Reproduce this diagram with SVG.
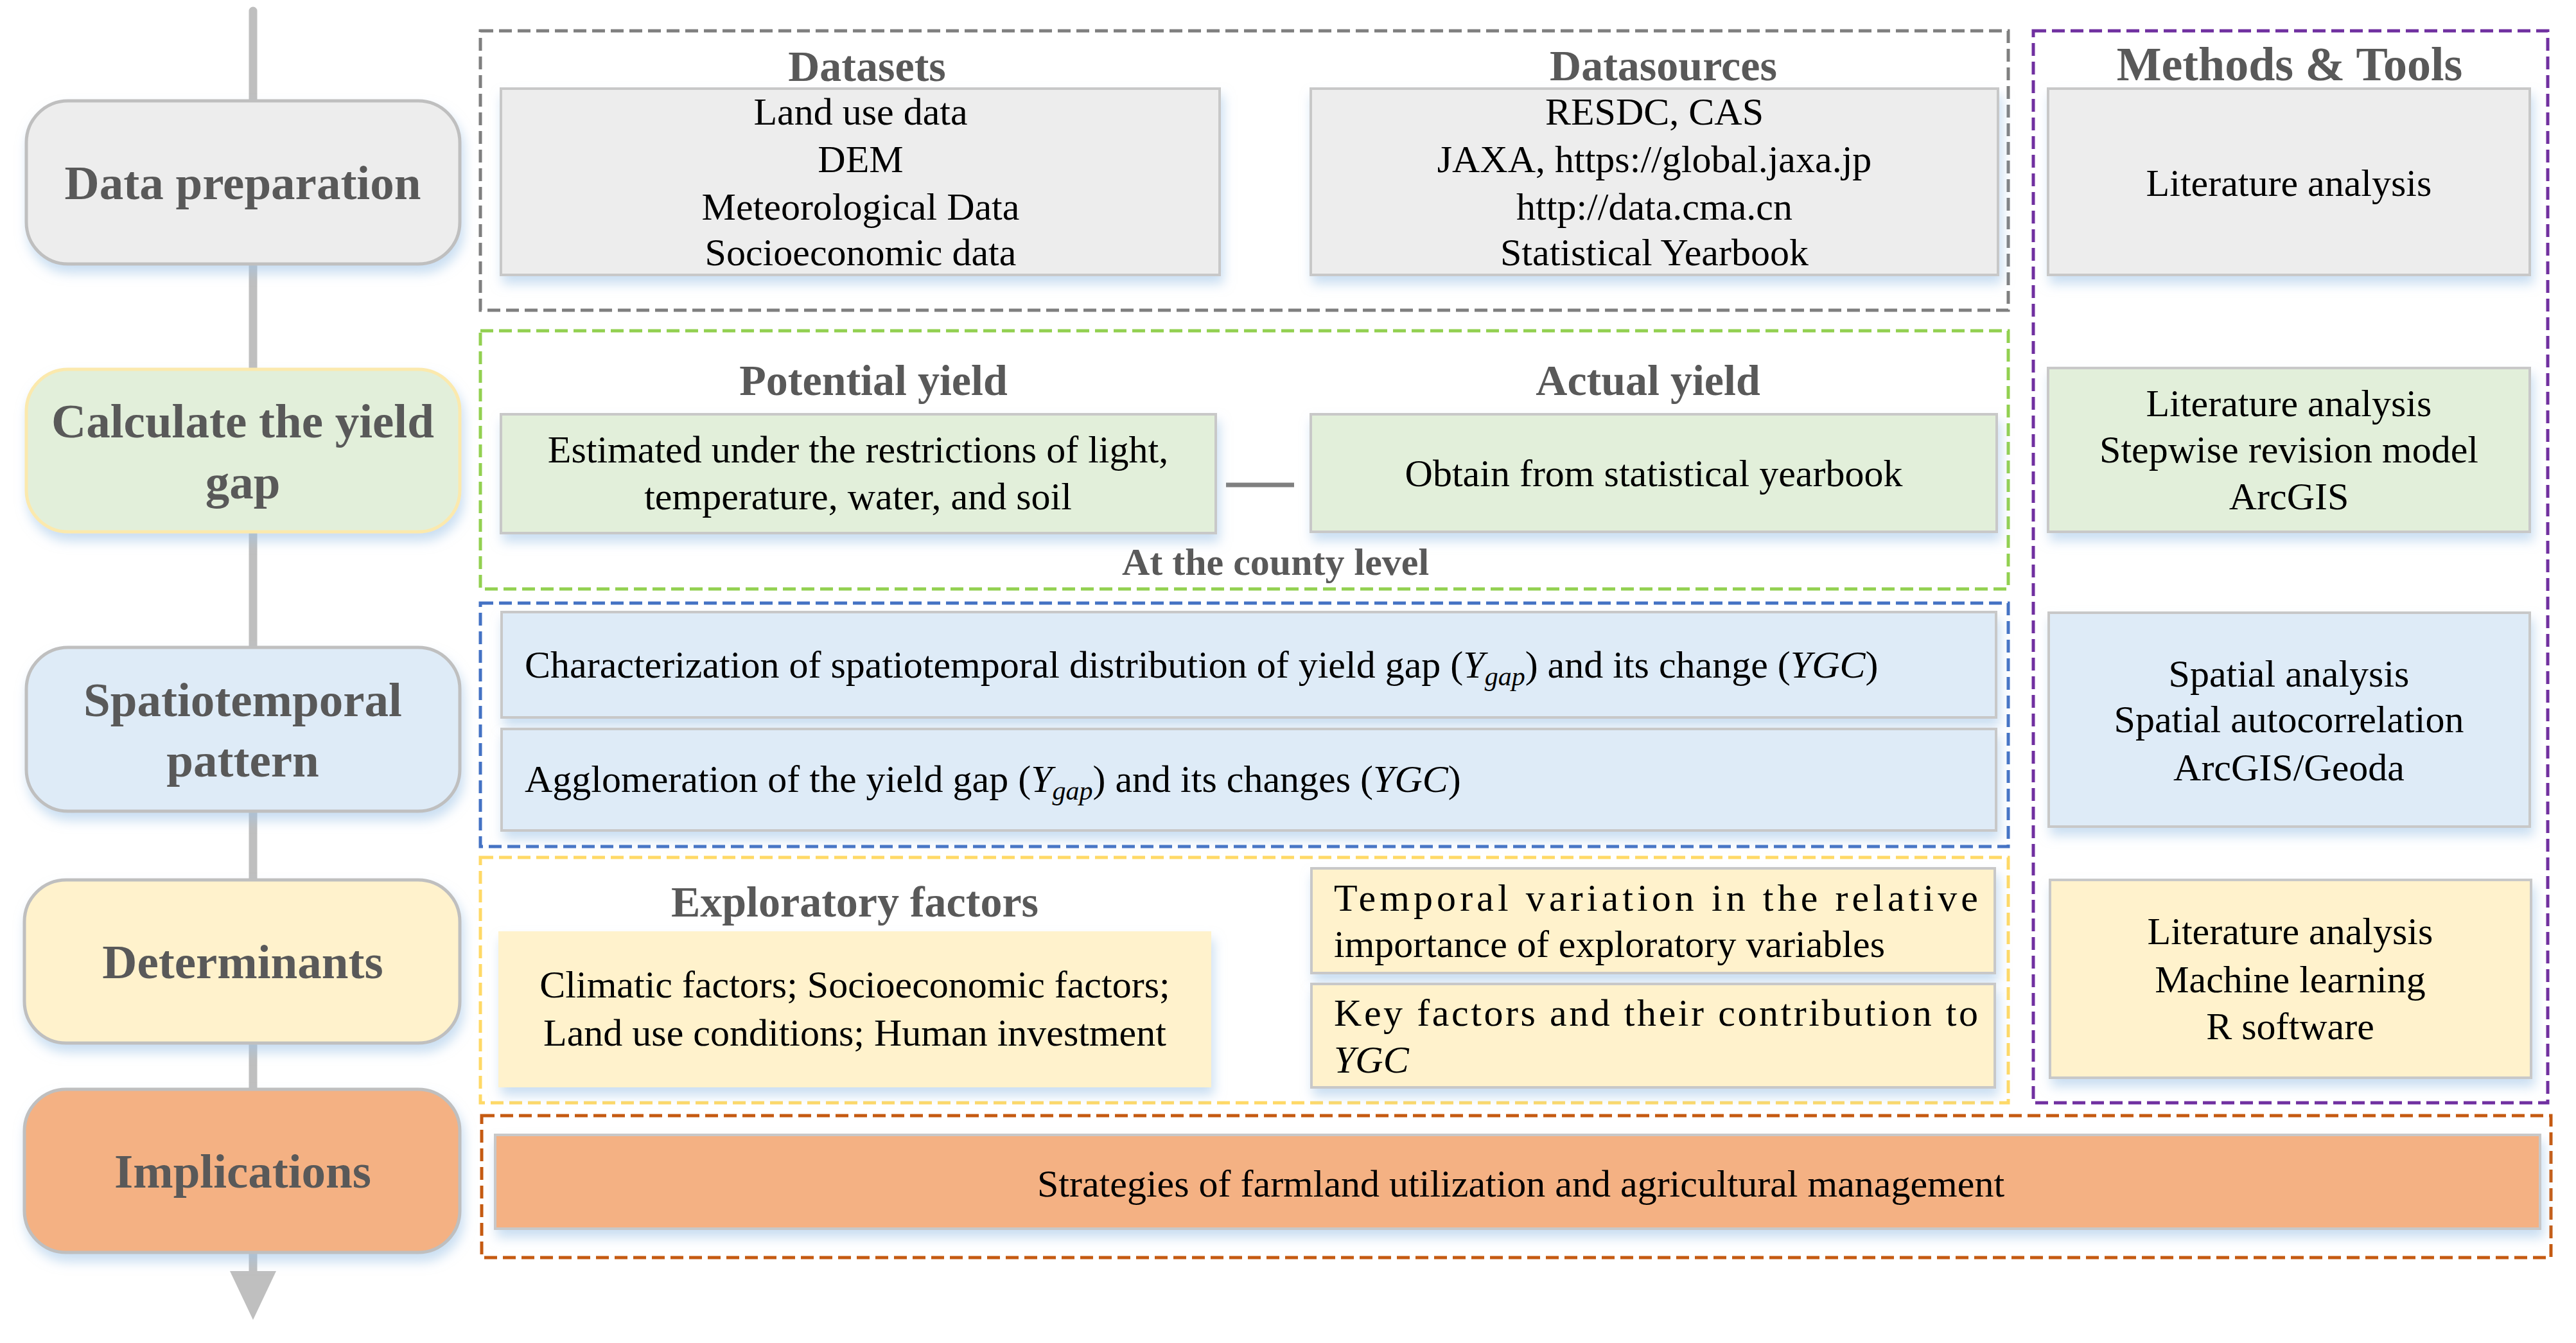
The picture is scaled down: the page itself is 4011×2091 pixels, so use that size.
<svg xmlns="http://www.w3.org/2000/svg" width="4011" height="2091" viewBox="0 0 4011 2091">
<defs>
<filter id="sh" x="-10%" y="-20%" width="120%" height="160%">
<feDropShadow dx="4" dy="12" stdDeviation="9" flood-color="#9dc3e6" flood-opacity="0.55"/>
</filter>
<marker id="arr" markerUnits="userSpaceOnUse" markerWidth="76" markerHeight="72" refX="2" refY="36" orient="auto" viewBox="0 0 76 72"><path d="M0,0 L76,36 L0,72 z" fill="#bfbfbf"/></marker>
</defs>
<style>
.stage rect{stroke:#bfbfbf;stroke-width:5;filter:url(#sh)}
.st{font-family:"Liberation Serif","Times New Roman",serif;font-weight:bold;font-size:75px;fill:#595959;text-anchor:middle}
.hd{font-family:"Liberation Serif","Times New Roman",serif;font-weight:bold;font-size:68px;fill:#595959;text-anchor:middle}
.tx{font-family:"Liberation Serif","Times New Roman",serif;font-size:60px;fill:#000;text-anchor:middle}
.tl{font-family:"Liberation Serif","Times New Roman",serif;font-size:60px;fill:#000;text-anchor:start}
.it{font-style:italic}
.box{stroke:#c8c8c8;stroke-width:4;filter:url(#sh)}
.grp{fill:none;stroke-width:5;stroke-dasharray:20 9}
</style>
<rect width="4011" height="2091" fill="#ffffff"/>

<g id="connectors">
<line x1="394" y1="17" x2="394" y2="1981" stroke="#bfbfbf" stroke-width="13" stroke-linecap="round" marker-end="url(#arr)"/>
<line x1="1909" y1="755" x2="2015" y2="755" stroke="#7f7f7f" stroke-width="7"/>
</g>

<g id="stage-data-preparation" class="stage">
<rect x="41" y="157" width="675" height="254" rx="65" fill="#ededed"/>
<text class="st" x="378" y="310">Data preparation</text>
</g>
<g id="stage-yield-gap" class="stage">
<rect x="41" y="575" width="675" height="253" rx="65" fill="#e2efda" style="stroke:#fbe9ad"/>
<text class="st" x="378" y="681">Calculate the yield</text>
<text class="st" x="378" y="776">gap</text>
</g>
<g id="stage-spatiotemporal" class="stage">
<rect x="41" y="1008" width="675" height="255" rx="65" fill="#deebf7"/>
<text class="st" x="378" y="1115">Spatiotemporal</text>
<text class="st" x="378" y="1209">pattern</text>
</g>
<g id="stage-determinants" class="stage">
<rect x="38" y="1370" width="678" height="254" rx="65" fill="#fff2cc"/>
<text class="st" x="378" y="1523">Determinants</text>
</g>
<g id="stage-implications" class="stage">
<rect x="38" y="1696" width="678" height="254" rx="65" fill="#f4b183"/>
<text class="st" x="378" y="1849">Implications</text>
</g>

<g id="group-data">
<rect class="grp" x="748" y="48" width="2379" height="435" stroke="#7f7f7f"/>
<text class="hd" x="1350" y="126">Datasets</text>
<text class="hd" x="2590" y="125">Datasources</text>
</g>
<g id="node-datasets">
<rect class="box" x="780" y="138" width="1119" height="290" fill="#ededed"/>
<text class="tx" x="1340" y="194">Land use data</text>
<text class="tx" x="1340" y="268">DEM</text>
<text class="tx" x="1340" y="342">Meteorological Data</text>
<text class="tx" x="1340" y="413">Socioeconomic data</text>
</g>
<g id="node-datasources">
<rect class="box" x="2041" y="138" width="1070" height="290" fill="#ededed"/>
<text class="tx" x="2576" y="194">RESDC, CAS</text>
<text class="tx" x="2576" y="268">JAXA, https://global.jaxa.jp</text>
<text class="tx" x="2576" y="342">http://data.cma.cn</text>
<text class="tx" x="2576" y="413">Statistical Yearbook</text>
</g>

<g id="group-methods">
<rect class="grp" x="3166" y="48" width="801" height="1669" stroke="#7030a0"/>
<text class="hd" x="3565" y="125" style="font-size:74px">Methods &amp; Tools</text>
</g>
<g id="node-methods-1">
<rect class="box" x="3189" y="138" width="750" height="290" fill="#ededed"/>
<text class="tx" x="3564" y="305">Literature analysis</text>
</g>
<g id="node-methods-2">
<rect class="box" x="3189" y="573" width="750" height="255" fill="#e2efda"/>
<text class="tx" x="3564" y="648">Literature analysis</text>
<text class="tx" x="3564" y="720">Stepwise revision model</text>
<text class="tx" x="3564" y="793">ArcGIS</text>
</g>
<g id="node-methods-3">
<rect class="box" x="3190" y="954" width="749" height="333" fill="#deebf7"/>
<text class="tx" x="3564" y="1069">Spatial analysis</text>
<text class="tx" x="3564" y="1140">Spatial autocorrelation</text>
<text class="tx" x="3564" y="1215">ArcGIS/Geoda</text>
</g>
<g id="node-methods-4">
<rect class="box" x="3192" y="1370" width="749" height="308" fill="#fff2cc"/>
<text class="tx" x="3566" y="1470">Literature analysis</text>
<text class="tx" x="3566" y="1545">Machine learning</text>
<text class="tx" x="3566" y="1618">R software</text>
</g>

<g id="group-yield">
<rect class="grp" x="748" y="515" width="2379" height="402" stroke="#92d050"/>
<text class="hd" x="1360" y="615">Potential yield</text>
<text class="hd" x="2566" y="615">Actual yield</text>
<text class="hd" x="1986" y="895" style="font-size:60px">At the county level</text>
</g>
<g id="node-potential">
<rect class="box" x="780" y="645" width="1113" height="185" fill="#e2efda"/>
<text class="tx" x="1336" y="720">Estimated under the restrictions of light,</text>
<text class="tx" x="1336" y="793">temperature, water, and soil</text>
</g>
<g id="node-actual">
<rect class="box" x="2041" y="645" width="1068" height="183" fill="#e2efda"/>
<text class="tx" x="2575" y="757">Obtain from statistical yearbook</text>
</g>

<g id="group-spatial">
<rect class="grp" x="748" y="939" width="2379" height="379" stroke="#4472c4"/>
</g>
<g id="node-characterization">
<rect class="box" x="781" y="953" width="2327" height="164" fill="#deebf7"/>
<text class="tl" x="817" y="1055">Characterization of spatiotemporal distribution of yield gap (<tspan class="it">Y</tspan><tspan class="it" dy="12" font-size="42">gap</tspan><tspan dy="-12">) and its change (</tspan><tspan class="it">YGC</tspan>)</text>
</g>
<g id="node-agglomeration">
<rect class="box" x="781" y="1135" width="2327" height="158" fill="#deebf7"/>
<text class="tl" x="817" y="1233">Agglomeration of the yield gap (<tspan class="it">Y</tspan><tspan class="it" dy="12" font-size="42">gap</tspan><tspan dy="-12">) and its changes (</tspan><tspan class="it">YGC</tspan>)</text>
</g>

<g id="group-determinants">
<rect class="grp" x="748" y="1335" width="2379" height="382" stroke="#ffd966"/>
<text class="hd" x="1331" y="1427">Exploratory factors</text>
</g>
<g id="node-exploratory">
<rect x="776" y="1450" width="1110" height="243" fill="#fff2cc" filter="url(#sh)"/>
<text class="tx" x="1331" y="1553">Climatic factors; Socioeconomic factors;</text>
<text class="tx" x="1331" y="1628">Land use conditions; Human investment</text>
</g>
<g id="node-temporal">
<rect class="box" x="2042" y="1352" width="1064" height="163" fill="#fff2cc"/>
<text class="tl" x="2077" y="1418" textLength="1003" lengthAdjust="spacing">Temporal variation in the relative</text>
<text class="tl" x="2077" y="1490">importance of exploratory variables</text>
</g>
<g id="node-key">
<rect class="box" x="2042" y="1532" width="1064" height="161" fill="#fff2cc"/>
<text class="tl" x="2077" y="1597" textLength="1003" lengthAdjust="spacing">Key factors and their contribution to</text>
<text class="tl it" x="2077" y="1670">YGC</text>
</g>

<g id="group-implications">
<rect class="grp" x="750" y="1737" width="3222" height="221" stroke="#c55a11"/>
</g>
<g id="node-strategies">
<rect class="box" x="771" y="1767" width="3184" height="146" fill="#f4b183"/>
<text class="tx" x="2368" y="1863">Strategies of farmland utilization and agricultural management</text>
</g>
</svg>
